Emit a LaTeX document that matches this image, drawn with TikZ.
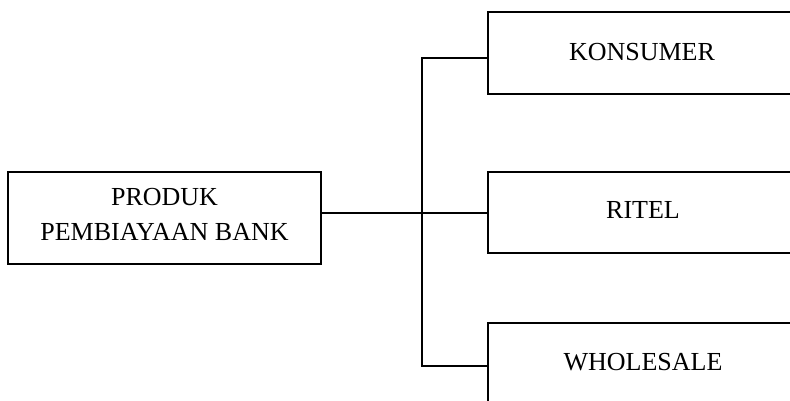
\documentclass[tikz,border=0pt]{standalone}
\usepackage{fontspec}
\setmainfont{Liberation Serif}
\begin{document}
\begin{tikzpicture}[x=1pt,y=1pt,
  box/.style={draw=black,line width=1.2pt,inner sep=0pt,minimum width=#1},
  lbl/.style={anchor=base,inner sep=0pt,font=\fontsize{26}{31}\selectfont},
  conn/.style={draw=black,line width=1.2pt}]
\clip (0,0) rectangle (790,400);
\fill[white] (0,0) rectangle (790,400);
% boxes
\node[box=313pt,minimum height=92pt] (prod) at (164.5,182) {};
\node[box=308pt,minimum height=82pt] (kon) at (642,347) {};
\node[box=308pt,minimum height=81pt] (rit) at (642,187.5) {};
\node[box=308pt,minimum height=82pt] (who) at (642,36) {};
% texts
\node[lbl] (prodA) at (164.5,195) {PRODUK};
\node[lbl] (prodB) at (164.5,160) {PEMBIAYAAN BANK};
\node[lbl] (konT) at (642,340) {KONSUMER};
\node[lbl] (ritT) at (643,182) {RITEL};
\node[lbl] (whoT) at (643,30) {WHOLESALE};
% connectors
\coordinate (jt) at (422,342);
\coordinate (jm) at (422,187);
\coordinate (jb) at (422,34);
\draw[conn] (kon.west |- jt) -- (jt) -- (jb) -- (who.west |- jb);
\draw[conn] (prod.east |- jm) -- (rit.west |- jm);
\end{tikzpicture}
\end{document}
